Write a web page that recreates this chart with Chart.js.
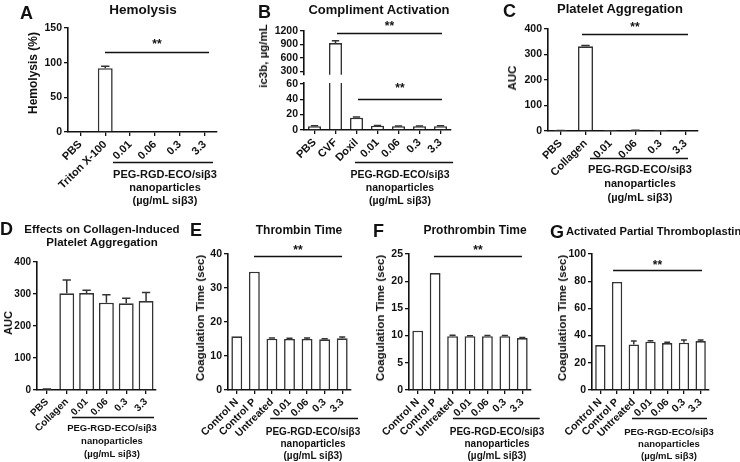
<!DOCTYPE html>
<html>
<head>
<meta charset="utf-8">
<script src="https://cdn.jsdelivr.net/npm/chart.js@4.4.1/dist/chart.umd.min.js"></script>
<style>
body { margin: 0; background: #fff; }
#fig { position: relative; width: 740px; height: 462px; overflow: hidden; font-family: "Liberation Sans", Arial, sans-serif; font-weight: bold; color: #111; }
#fig canvas { position: absolute; }
.t { position: absolute; white-space: nowrap; transform: translate(-50%, -50%); }
.l { position: absolute; white-space: nowrap; transform: translate(0, -50%); }
.r { position: absolute; white-space: nowrap; transform: translate(-50%, -50%) rotate(-90deg); }
</style>
</head>
<body>
<div id="fig"></div>
<script>
// A - hemolysis
const catsA = ['PBS', 'Triton X-100', '0.01', '0.06', '0.3', '3.3'];
const hemolysis = [0, 92, 0, 0, 0, 0];
const hemolysisErr = [0, 3, 0, 0, 0, 0];
const ticksA = [0, 50, 100, 150];

// B - complement (broken axis)
const catsB = ['PBS', 'CVF', 'Doxil', '0.01', '0.06', '0.3', '3.3'];
const ic3b = [5, 930, 16, 5.5, 5, 4.8, 5];
const ic3bErr = [0.5, 55, 1, 0.5, 0.3, 0.4, 0.4];
const ticksBHigh = [300, 600, 900, 1200];
const ticksBLow = [0, 20, 40, 60];

// C - platelet aggregation
const catsC = ['PBS', 'Collagen', '0.01', '0.06', '0.3', '3.3'];
const aggregation = [1, 332, 0.5, 2, 0.5, 0];
const aggregationErr = [0.5, 3, 0, 1, 0, 0];
const ticksC = [0, 100, 200, 300, 400];

// D - collagen induced aggregation
const catsD = ['PBS', 'Collagen', '0.01', '0.06', '0.3', '3.3'];
const collagenAgg = [2, 302, 303, 273, 271, 278];
const collagenAggErr = [1, 42, 9, 25, 16, 27];
const ticksD = [0, 100, 200, 300, 400];

// E, F, G - coagulation
const catsCoag = ['Control N', 'Control P', 'Untreated', '0.01', '0.06', '0.3', '3.3'];
const thrombin = [15.8, 34.8, 15.1, 15.0, 15.0, 14.9, 15.2];
const thrombinErr = [0, 0, 0.2, 0.2, 0.3, 0.2, 0.4];
const ticksE = [0, 10, 20, 30, 40];
const prothrombin = [10.9, 21.5, 9.9, 9.9, 9.9, 9.9, 9.55];
const prothrombinErr = [0, 0, 0.15, 0.05, 0.1, 0.1, 0.1];
const ticksF = [0, 5, 10, 15, 20, 25];
const aptt = [33, 79.5, 33.5, 35.5, 34.5, 34.8, 36];
const apttErr = [0, 0, 2.5, 0.8, 0.6, 2, 0.8];
const ticksG = [0, 20, 40, 60, 80, 100];

const fig = document.getElementById('fig');
const FONT = '"Liberation Sans", Arial, sans-serif';
Chart.defaults.font.family = FONT;
Chart.defaults.color = '#111';

function text(s, x, y, size, cls) {
    const d = document.createElement('div');
    d.className = cls || 't';
    d.textContent = s;
    d.style.left = x + 'px';
    d.style.top = y + 'px';
    d.style.fontSize = size + 'px';
    fig.appendChild(d);
}
function caption(x, y, size, gap) {
    text('PEG-RGD-ECO/si\u03b23', x, y, size);
    text('nanoparticles', x, y + gap, size);
    text('(\u00b5g/mL si\u03b23)', x, y + 2 * gap, size);
}

// error bars, significance lines and brackets
const extras = {
    id: 'extras',
    afterDatasetsDraw(chart) {
        const { ctx, chartArea: a, scales: { y } } = chart;
        ctx.save();
        ctx.beginPath();
        ctx.rect(a.left, a.top - 1, a.right - a.left, a.bottom - a.top + 1);
        ctx.clip();
        ctx.strokeStyle = '#333';
        ctx.lineWidth = 1.5;
        chart.data.datasets.forEach((ds, di) => {
            chart.getDatasetMeta(di).data.forEach((bar, i) => {
                const e = ds.errors[i];
                if (!e) return;
                const top = y.getPixelForValue(ds.data[i] + e);
                const half = bar.width * 0.28;
                ctx.beginPath();
                ctx.moveTo(bar.x, bar.y);
                ctx.lineTo(bar.x, top);
                ctx.moveTo(bar.x - half, top);
                ctx.lineTo(bar.x + half, top);
                ctx.stroke();
            });
        });
        ctx.restore();
    },
    afterDraw(chart, args, o) {
        const { ctx, chartArea: a, scales: { x, y } } = chart;
        ctx.save();
        ctx.strokeStyle = '#111';
        ctx.fillStyle = '#111';
        ctx.lineWidth = 1.6;
        (o.sig || []).forEach(s => {
            const py = Math.round(y.getPixelForValue(s.value)) + 0.5;
            const x0 = x.getPixelForValue(s.from), x1 = x.getPixelForValue(s.to);
            ctx.beginPath();
            ctx.moveTo(x0, py);
            ctx.lineTo(x1, py);
            ctx.stroke();
            ctx.font = 'bold 12px ' + FONT;
            ctx.textAlign = 'center';
            ctx.textBaseline = 'alphabetic';
            ctx.fillText('**', (x0 + x1) / 2, py - s.gap + 6.6);
        });
        if (o.bracket) {
            const b = o.bracket;
            const py = Math.round(a.bottom + b.dy) + 0.5;
            ctx.beginPath();
            ctx.moveTo(x.getPixelForValue(b.from), py);
            ctx.lineTo(x.getPixelForValue(b.to), py);
            ctx.stroke();
        }
        ctx.restore();
    }
};

function panel(p) {
    const padL = 30, yW = 30, padT = 12, padR = 16;
    const xH = p.xHidden ? 0 : 80, padB = p.xHidden ? 6 : 0;
    const a = p.area;
    const w = a.r - a.l + padL + yW + padR;
    const h = a.b - a.t + padT + xH + padB;
    const c = document.createElement('canvas');
    c.width = w; c.height = h;
    c.style.width = w + 'px'; c.style.height = h + 'px';
    c.style.left = (a.l - padL - yW) + 'px';
    c.style.top = (a.t - padT) + 'px';
    fig.appendChild(c);
    const axisGrid = { display: true, drawOnChartArea: false, drawTicks: true, tickLength: 4, offset: false, color: '#111', lineWidth: 1.3 };
    new Chart(c, {
        type: 'bar',
        data: {
            labels: p.labels,
            datasets: [{
                data: p.data,
                errors: p.errors,
                backgroundColor: '#fff',
                borderColor: '#333',
                borderWidth: 1.6,
                barPercentage: p.bp,
                categoryPercentage: 1
            }]
        },
        options: {
            responsive: false,
            animation: false,
            layout: { autoPadding: false, padding: { left: padL, top: padT, right: padR, bottom: padB } },
            scales: {
                x: {
                    display: !p.xHidden,
                    grid: axisGrid,
                    border: { display: true, color: '#111', width: 1.6 },
                    ticks: {
                        autoSkip: false, minRotation: 45, maxRotation: 45, padding: 2,
                        font: { size: p.xSize, weight: 'bold' }, color: '#111'
                    },
                    afterFit: s => { s.height = xH; }
                },
                y: {
                    min: p.min, max: p.max,
                    grid: axisGrid,
                    border: { display: true, color: '#111', width: 1.6 },
                    ticks: { autoSkip: false, padding: 2, font: { size: p.ySize, weight: 'bold' }, color: '#111', callback: v => String(v) },
                    afterBuildTicks: s => { s.ticks = p.ticks.map(v => ({ value: v })); },
                    afterFit: s => { s.width = yW; }
                }
            },
            plugins: {
                legend: { display: false },
                tooltip: { enabled: false },
                extras: { sig: p.sig, bracket: p.bracket }
            }
        },
        plugins: [extras]
    });
}

// ---- A
panel({ area: { l: 68, r: 217, t: 28, b: 132 }, labels: catsA, data: hemolysis, errors: hemolysisErr,
    min: 0, max: 150, ticks: ticksA, bp: 0.6, xSize: 11, ySize: 10.5,
    sig: [{ from: 0.99, to: 5.18, value: 115, gap: 11 }], bracket: { from: 1.31, to: 5.34, dy: 30 } });
text('A', 20, 13, 18, 'l');
text('Hemolysis', 143, 9, 13.5);
text('Hemolysis (%)', 33, 73, 12, 'r');
caption(165, 174, 11, 13);

// ---- B (two stacked charts for the broken axis)
panel({ area: { l: 304, r: 451, t: 31, b: 77 }, labels: catsB, data: ic3b, errors: ic3bErr, xHidden: true,
    min: 225, max: 1200, ticks: ticksBHigh, bp: 0.62, xSize: 11, ySize: 10.5,
    sig: [{ from: 1.07, to: 6.07, value: 1150, gap: 10 }] });
panel({ area: { l: 304, r: 451, t: 83, b: 130 }, labels: catsB, data: ic3b, errors: ic3bErr,
    min: 0, max: 61, ticks: ticksBLow, bp: 0.62, xSize: 11, ySize: 10.5,
    sig: [{ from: 2.07, to: 6.07, value: 40, gap: 14 }], bracket: { from: 1.93, to: 6.6, dy: 32 } });
text('B', 258, 12, 18, 'l');
text('Compliment Activation', 379, 9, 13);
text('ic3b, \u00b5g/mL', 263, 56, 11.5, 'r');
caption(400, 174, 10.5, 13);

// ---- C
panel({ area: { l: 548, r: 698, t: 29, b: 131 }, labels: catsC, data: aggregation, errors: aggregationErr,
    min: 0, max: 400, ticks: ticksC, bp: 0.6, xSize: 11, ySize: 10.5,
    sig: [{ from: 0.86, to: 5.1, value: 380, gap: 10 }], bracket: { from: 1.18, to: 5.1, dy: 27 } });
text('C', 503, 11, 18, 'l');
text('Platelet Aggregation', 620, 8, 13);
text('AUC', 512, 78, 11.5, 'r');
caption(640, 169, 11, 14);

// ---- D
panel({ area: { l: 37, r: 156, t: 262, b: 390 }, labels: catsD, data: collagenAgg, errors: collagenAggErr,
    min: 0, max: 400, ticks: ticksD, bp: 0.75, xSize: 10, ySize: 10,
    sig: [], bracket: { from: 1.26, to: 5.4, dy: 27 } });
text('D', 0, 229, 18, 'l');
text('Effects on Collagen-Induced', 102, 229, 11.5);
text('Platelet Aggregation', 102, 242, 11.5);
text('AUC', 8, 323, 11, 'r');
caption(112, 427, 9.5, 13);

// ---- E
panel({ area: { l: 228, r: 351, t: 254, b: 390 }, labels: catsCoag, data: thrombin, errors: thrombinErr,
    min: 0, max: 40, ticks: ticksE, bp: 0.62, xSize: 10.5, ySize: 10.5,
    sig: [{ from: 0.98, to: 5.99, value: 39.4, gap: 9 }], bracket: { from: 1.9, to: 6.9, dy: 28 } });
text('E', 190, 230, 18, 'l');
text('Thrombin Time', 299, 230, 12);
text('Coagulation Time (sec)', 200, 318, 11.5, 'r');
caption(313, 431, 10, 12);

// ---- F
panel({ area: { l: 409, r: 531, t: 254, b: 390 }, labels: catsCoag, data: prothrombin, errors: prothrombinErr,
    min: 0, max: 25, ticks: ticksF, bp: 0.62, xSize: 10.5, ySize: 10.5,
    sig: [{ from: 0.93, to: 5.98, value: 24.6, gap: 9 }], bracket: { from: 2.02, to: 7.0, dy: 28 } });
text('F', 373, 231, 18, 'l');
text('Prothrombin Time', 475, 230, 12);
text('Coagulation Time (sec)', 380, 318, 11.5, 'r');
caption(497, 431, 10, 12);

// ---- G
panel({ area: { l: 592, r: 709, t: 254, b: 390 }, labels: catsCoag, data: aptt, errors: apttErr,
    min: 0, max: 100, ticks: ticksG, bp: 0.62, xSize: 10.5, ySize: 10.5,
    sig: [{ from: 0.76, to: 6.08, value: 88.2, gap: 8 }], bracket: { from: 1.89, to: 6.38, dy: 28 } });
text('G', 550, 232, 18, 'l');
text('Activated Partial Thromboplastin', 566, 231, 11.2, 'l');
text('Coagulation Time (sec)', 562, 318, 11.5, 'r');
caption(669, 431, 9.5, 12);
</script>
</body>
</html>
